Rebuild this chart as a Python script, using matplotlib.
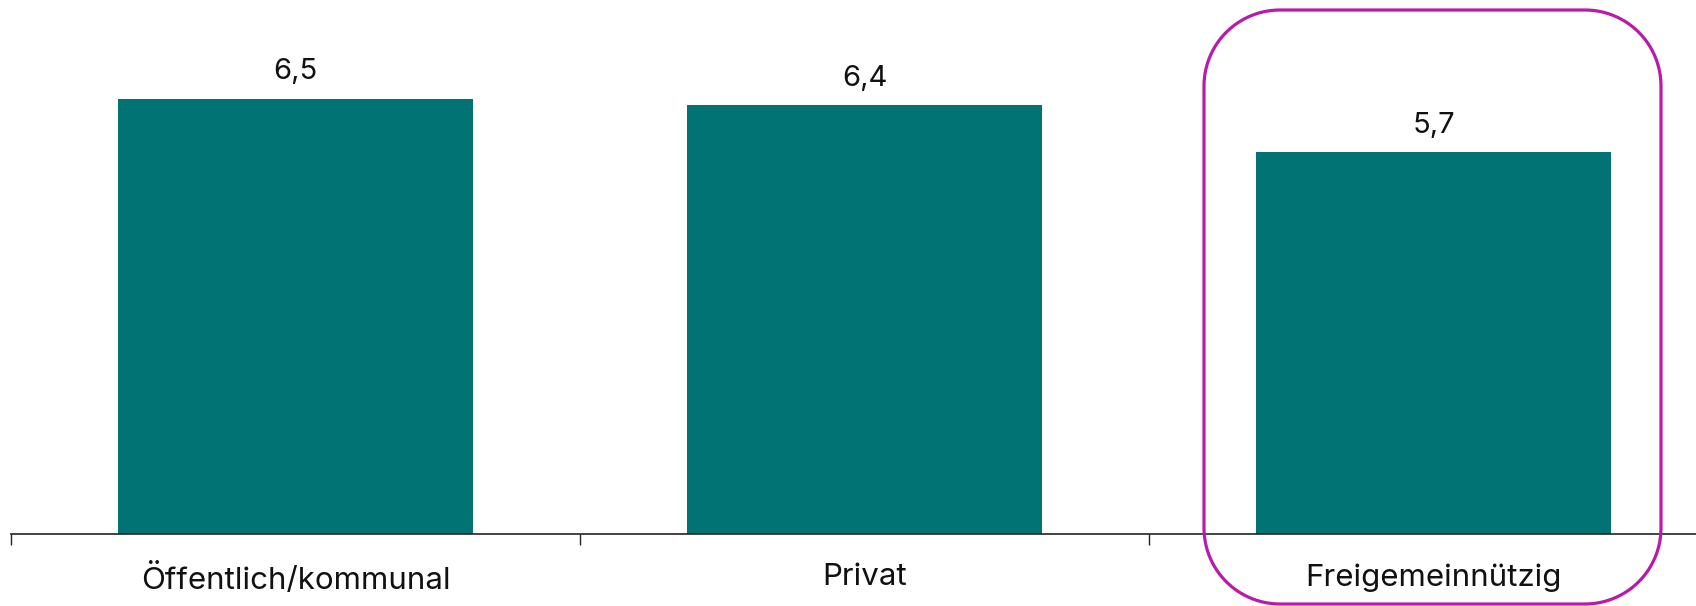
import numpy as np
import matplotlib.pyplot as plt
from matplotlib.patches import PathPatch
from matplotlib.path import Path

categories = ["Öffentlich/kommunal", "Privat", "Freigemeinnützig"]
values = [6.5, 6.4, 5.7]

bar_color = "#017375"
box_color = "#BA1AA8"

plt.rcParams["font.family"] = ["Inter", "DejaVu Sans"]

W, H, DPI = 1696, 606, 100
fig = plt.figure(figsize=(W / DPI, H / DPI), dpi=DPI)

# axes spans three category slots of ~569 px, starting at x=11; baseline at y=534
slot = 569
ax = fig.add_axes([11 / W, (H - 534) / H, 3 * slot / W, 534 / H])

x = np.arange(len(categories))
ax.bar(x, values, width=0.624, color=bar_color)
ax.set_xlim(-0.5, len(categories) - 0.5)
ax.set_ylim(0, 534 / 67.0)

for xi, v in zip(x, values):
    ax.annotate(f"{v:.1f}".replace(".", ","), (xi, v), xytext=(0, 14),
                textcoords="offset points", ha="center", va="baseline",
                fontsize=21, color="#111111")

for s in ["top", "right", "left"]:
    ax.spines[s].set_visible(False)
ax.spines["bottom"].set_color("#222222")
ax.spines["bottom"].set_linewidth(1.2)
ax.set_yticks([])

# major ticks at category boundaries, labels on minor ticks at centers
ax.set_xticks(np.arange(-0.5, len(categories) + 0.5, 1.0))
ax.set_xticklabels([])
ax.tick_params(axis="x", which="major", length=8, width=1, color="#222222", direction="out")
ax.set_xticks(x, minor=True)
ax.set_xticklabels(categories, minor=True, fontsize=22.5, color="#111111")
ax.tick_params(axis="x", which="minor", length=0, pad=21)


def rounded_rect(x0, y0, w, h, r, n=30):
    # rectangle with circular corners, in inches
    pts = []
    corners = [(x0 + w - r, y0 + r, -90), (x0 + w - r, y0 + h - r, 0),
               (x0 + r, y0 + h - r, 90), (x0 + r, y0 + r, 180)]
    for cx, cy, a0 in corners:
        t = np.radians(np.linspace(a0, a0 + 90, n))
        pts.extend(zip(cx + r * np.cos(t), cy + r * np.sin(t)))
    pts.append(pts[0])
    return Path(pts)


# highlight box around the last category
box = PathPatch(rounded_rect(12.04, 0.02, 4.57, 5.94, 0.76),
                transform=fig.dpi_scale_trans, fill=False,
                edgecolor=box_color, linewidth=2.3, clip_on=False)
fig.add_artist(box)

fig.savefig("out.png", dpi=DPI)
